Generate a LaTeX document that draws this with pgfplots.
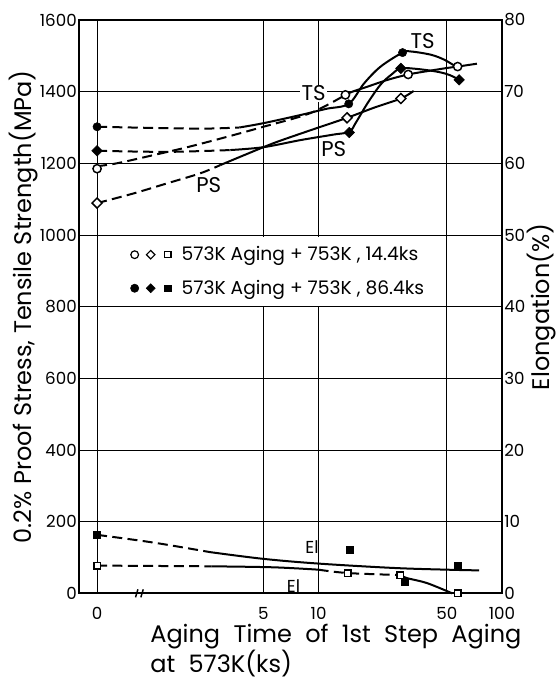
\documentclass[border=0pt]{standalone}
\usepackage{fontspec}
\setmainfont{Poppins}
\usepackage{pgfplots}
\pgfplotsset{compat=1.18}
\newcommand\labfont{\fontsize{18}{18}\selectfont}
\newcommand\xlabfont{\fontsize{18}{17}\selectfont}
\newcommand\tickfont{\fontsize{12.5}{12.5}\selectfont}
\newcommand\ws{\hspace{10pt}}
\pgfplotsset{
  mysolid/.style={black, line width=1.5pt, smooth, tension=0.55, no marks},
  mydash/.style={black, line width=1.5pt, smooth, tension=0.55, no marks, dash pattern=on 7.5pt off 4pt},
  ocirc/.style={only marks, mark=*, mark size=3.1pt, mark options={fill=white, draw=black, line width=1.1pt, solid}},
  fcirc/.style={only marks, mark=*, mark size=3.1pt, mark options={fill=black, draw=black, solid}},
  odiam/.style={only marks, mark=square*, mark size=2.65pt, mark options={rotate=45, fill=white, draw=black, line width=1.1pt, solid}},
  fdiam/.style={only marks, mark=square*, mark size=2.8pt, mark options={rotate=45, fill=black, solid}},
  osq/.style={only marks, mark=square*, mark size=2.4pt, mark options={fill=white, draw=black, line width=1.1pt, solid}},
  fsq/.style={only marks, mark=square*, mark size=2.7pt, mark options={fill=black, solid}},
}
\begin{document}
\begin{tikzpicture}
\useasboundingbox (-59.25pt,-65pt) rectangle (358.5pt,445pt);
\begin{axis}[at={(0,0)}, anchor=south west, width=317.25pt, height=430pt, scale only axis,
  xmode=log, xmin=0.494, xmax=100, major tick length=0pt, minor tick length=0pt,
  axis line style={line width=1.5pt}, tick label style={font=\tickfont},
  /pgf/number format/assume math mode=true, /pgf/number format/1000 sep={}, clip=false,
  ymin=0, ymax=1600,
  xtick={0.62,5,10,50,100}, xticklabels={0,5,10,50,100}, minor xtick={},
  ytick={0,200,...,1600}, xtick pos=bottom, ytick pos=left,
  grid=major, grid style={black, line width=0.7pt},
  xticklabel style={yshift=-7pt},
  yticklabel style={inner sep=1.5pt},
  xlabel={Aging\ws Time\ws of\ws 1st\ws Step\ws Aging\\at\ws 573K(ks)},
  xlabel style={at={(rel axis cs:0.168,-0.0525)}, anchor=north west, align=left, inner sep=0pt, font=\xlabfont},
  ylabel={0.2\% Proof Stress, Tensile Strength(MPa)},
  ylabel style={at={(rel axis cs:-0.13,0.5)}, anchor=center, inner sep=0pt, font=\labfont},
  legend style={at={(rel axis cs:0.111,0.6215)}, anchor=north west, fill=white, draw=none,
     inner xsep=3pt, inner ysep=5pt, row sep=9pt, font=\fontsize{14}{14}\selectfont, cells={anchor=west}},
]
\addlegendimage{legend image code/.code={
  \draw[line width=0.9pt, fill=white] (0pt,0pt) circle (2.9pt);
  \draw[line width=0.9pt, fill=white] (12pt,-3.2pt) -- (15.2pt,0pt) -- (12pt,3.2pt) -- (8.8pt,0pt) -- cycle;
  \draw[line width=0.9pt, fill=white] (22.4pt,-2.4pt) rectangle (27.2pt,2.4pt);
  \path (33pt,0pt);}}
\addlegendentry{573K Aging + 753K , 14.4ks}
\addlegendimage{legend image code/.code={
  \fill (0pt,0pt) circle (3.1pt);
  \fill (12pt,-3.4pt) -- (15.4pt,0pt) -- (12pt,3.4pt) -- (8.6pt,0pt) -- cycle;
  \fill (22.2pt,-2.6pt) rectangle (27.4pt,2.6pt);
  \path (33pt,0pt);}}
\addlegendentry{573K Aging + 753K , 86.4ks}

\node[fill=white, inner sep=1pt, font=\fontsize{16}{16}\selectfont] at (axis cs:9.4,1395) {TS};
\node[inner sep=1pt, font=\fontsize{16}{16}\selectfont] at (axis cs:36.9,1540) {TS};
\node[inner sep=1pt, font=\fontsize{16}{16}\selectfont] at (axis cs:2.52,1139) {PS};
\node[inner sep=1pt, font=\fontsize{16}{16}\selectfont] at (axis cs:12.1,1240) {PS};
\node[inner sep=1pt, font=\fontsize{13}{13}\selectfont] at (axis cs:9.2,130) {El};
\node[inner sep=1pt, font=\fontsize{13}{13}\selectfont] at (axis cs:7.3,20) {El};

% A: TS, 86.4 ks (filled circles)
\addplot[mydash] coordinates {(0.62,1302)(1.5,1298)(2.5,1297)(3.7,1300)};
\addplot[mysolid] coordinates {(3.7,1300)(5,1312)(8,1335)(11,1352)(14.6,1366)(17.7,1423)(21.8,1470)(28.7,1509)(32,1512)(41,1503)(48.5,1489)(56,1470)};
% B: PS, 86.4 ks (filled diamonds)
\addplot[mydash] coordinates {(0.62,1235)(1.5,1232)(3.3,1237)};
\addplot[mysolid] coordinates {(3.3,1237)(5,1245)(8,1265)(12,1280)(14.7,1288)(15.9,1312)(18.5,1368)(21.8,1420)(25,1448)(28.1,1465)(35,1463)(45,1455)(52,1446)(58.4,1433)};
% C: TS, 14.4 ks (open circles)
\addplot[mydash] coordinates {(0.62,1192)(0.794,1200)(1.26,1223)(1.96,1246)(3.17,1274)(5,1302)(9,1340)(14.0,1391)};
\addplot[mysolid] coordinates {(14.0,1391)(15.3,1400)(18.5,1414)(23.8,1433)(30.8,1448)(40,1458)(50,1466)(57.3,1470)(73,1478)};
% D: PS, 14.4 ks (open diamonds)
\addplot[mydash] coordinates {(0.62,1089)(0.98,1116)(1.49,1144)(2.26,1172)(2.91,1195)};
\addplot[mysolid] coordinates {(2.91,1195)(5,1245)(6.33,1265)(10,1300)(14.3,1327)(20,1355)(28.1,1381)(33,1402)};

\addplot[fcirc] coordinates {(0.62,1302)(14.6,1366)(28.7,1509)};
\addplot[fdiam] coordinates {(0.62,1235)(14.7,1286)(28.1,1465)(58.4,1433)};
\addplot[ocirc] coordinates {(0.62,1185)(14.0,1391)(30.8,1448)(57.3,1470)};
\addplot[odiam] coordinates {(0.62,1089)(14.3,1327)(28.1,1381)};

\draw[line width=1.1pt] ([xshift=-3.5pt,yshift=-3pt]axis cs:1.065,0) -- ++(1.8pt,6pt);
\draw[line width=1.1pt] ([xshift=0.5pt,yshift=-3pt]axis cs:1.065,0) -- ++(1.8pt,6pt);
\end{axis}

\begin{axis}[at={(0,0)}, anchor=south west, width=317.25pt, height=430pt, scale only axis,
  xmode=log, xmin=0.494, xmax=100, major tick length=0pt, minor tick length=0pt,
  axis line style={line width=1.5pt}, tick label style={font=\tickfont},
  /pgf/number format/assume math mode=true, clip=false,
  ymin=0, ymax=80, axis x line=none, axis y line*=right,
  ytick={0,10,...,80},
  yticklabel style={inner sep=1.5pt},
  ylabel={Elongation(\%)},
  ylabel style={at={(rel axis cs:1.094,0.5)}, anchor=center, inner sep=0pt, font=\labfont},
]
% E: El, 86.4 ks (filled squares)
\addplot[mydash] coordinates {(0.62,8.16)(1.26,7.08)(2.56,5.75)};
\addplot[mysolid] coordinates {(2.56,5.75)(5,4.81)(10,4.15)(25.7,3.54)(50,3.3)(75,3.2)};
% F: El, 14.4 ks (open squares)
\addplot[mydash] coordinates {(0.62,3.87)(2.6,3.77)};
\addplot[mysolid] coordinates {(2.6,3.77)(5.68,3.63)(10,3.3)};
\addplot[mydash] coordinates {(10,3.3)(14.4,2.83)(27.9,2.55)};
\addplot[mysolid] coordinates {(27.9,2.55)(30.4,2.12)(39.1,1.42)(53.5,0)};

\addplot[fsq] coordinates {(0.62,8.16)(14.8,6.04)(29.4,1.6)(57.5,3.87)};
\addplot[osq] coordinates {(0.62,3.87)(14.4,2.83)(27.9,2.55)(57.5,0)};
\end{axis}
\end{tikzpicture}
\end{document}
